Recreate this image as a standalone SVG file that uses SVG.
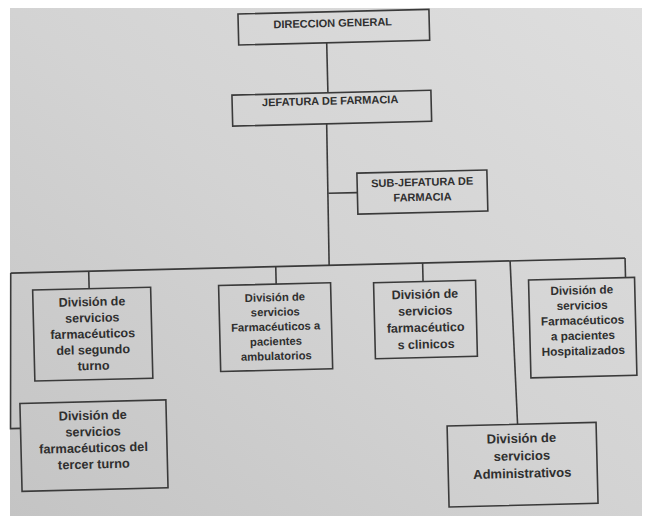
<svg xmlns="http://www.w3.org/2000/svg" width="645" height="521" viewBox="0 0 645 521">
<defs>
<linearGradient id="paper" x1="1" y1="0" x2="0" y2="1">
<stop offset="0" stop-color="#dedede"/>
<stop offset="0.5" stop-color="#d3d3d3"/>
<stop offset="1" stop-color="#c4c4c4"/>
</linearGradient>
<style>
.box{fill:none;stroke:#3a3a3a;stroke-width:1.6}
.ln{fill:none;stroke:#3a3a3a;stroke-width:1.6}
text{font-family:"Liberation Sans",Arial,sans-serif;font-weight:bold;fill:#2f2f2f;text-anchor:middle}
.t11{font-size:11px}
.t113{font-size:11.3px}
.t118{font-size:11.8px}
.t125{font-size:12.5px}
.t128{font-size:12.8px}
.t13{font-size:13px}
</style>
</defs>
<rect x="0" y="0" width="645" height="521" fill="#ffffff"/>
<rect x="10" y="8" width="632" height="508" fill="url(#paper)"/>
<g transform="rotate(-1.4 322 260)">
<g id="connectors">
<line class="ln" x1="332" y1="43" x2="332" y2="93"/>
<line class="ln" x1="330" y1="124" x2="329" y2="265.5"/>
<line class="ln" x1="330" y1="193.5" x2="359" y2="193.5"/>
<line class="ln" x1="10.5" y1="265.5" x2="625" y2="265.5"/>
<line class="ln" x1="88.5" y1="265.5" x2="88.5" y2="283"/>
<line class="ln" x1="275.6" y1="265.5" x2="275.6" y2="283"/>
<line class="ln" x1="422.5" y1="265.5" x2="422.5" y2="284"/>
<line class="ln" x1="625" y1="265.5" x2="625" y2="285"/>
<line class="ln" x1="510" y1="265.5" x2="513.5" y2="429"/>
<polyline class="ln" points="10.5,265.5 6.5,421 16.5,421"/>
</g>
<g id="direccion-general">
<rect class="box" x="244" y="12" width="191" height="31"/>
<text class="t11" x="338.5" y="27.2">DIRECCION GENERAL</text>
</g>
<g id="jefatura-farmacia">
<rect class="box" x="236" y="93" width="199" height="31"/>
<text class="t11" x="334" y="104.9">JEFATURA DE FARMACIA</text>
</g>
<g id="sub-jefatura">
<rect class="box" x="359" y="174" width="130" height="41"/>
<text class="t11" x="424" y="188.4">SUB-JEFATURA DE</text>
<text class="t11" x="424" y="203.4">FARMACIA</text>
</g>
<g id="div-segundo-turno">
<rect class="box" x="32" y="283" width="118" height="91"/>
<text class="t125" x="91" y="300.4">División de</text>
<text class="t125" x="91" y="316.4">servicios</text>
<text class="t125" x="91" y="332.4">farmacéuticos</text>
<text class="t125" x="91" y="348.4">del segundo</text>
<text class="t125" x="91" y="364.4">turno</text>
</g>
<g id="div-ambulatorios">
<rect class="box" x="218" y="283" width="112" height="86"/>
<text class="t113" x="274" y="300">División de</text>
<text class="t113" x="274" y="314.7">servicios</text>
<text class="t113" x="274" y="329.4">Farmacéuticos a</text>
<text class="t113" x="274" y="344.1">pacientes</text>
<text class="t113" x="274" y="358.8">ambulatorios</text>
</g>
<g id="div-clinicos">
<rect class="box" x="373" y="284" width="102" height="76"/>
<text class="t125" x="424" y="300.9">División de</text>
<text class="t125" x="424" y="317.6">servicios</text>
<text class="t125" x="424" y="334.3">farmacéutico</text>
<text class="t125" x="424" y="351">s clinicos</text>
</g>
<g id="div-hospitalizados">
<rect class="box" x="528" y="285" width="106" height="98"/>
<text class="t118" x="581" y="300.5">División de</text>
<text class="t118" x="581" y="315.7">servicios</text>
<text class="t118" x="581" y="330.9">Farmacéuticos</text>
<text class="t118" x="581" y="346.1">a pacientes</text>
<text class="t118" x="581" y="361.3">Hospitalizados</text>
</g>
<g id="div-tercer-turno">
<rect class="box" x="16.5" y="396" width="146" height="88"/>
<text class="t128" x="89" y="414">División de</text>
<text class="t128" x="89" y="430.3">servicios</text>
<text class="t128" x="89" y="446.6">farmacéuticos del</text>
<text class="t128" x="89" y="462.9">tercer turno</text>
</g>
<g id="div-administrativos">
<rect class="box" x="443" y="429" width="149" height="81"/>
<text class="t13" x="517" y="447.6">División de</text>
<text class="t13" x="517" y="465.1">servicios</text>
<text class="t13" x="517" y="482.6">Administrativos</text>
</g>
</g>
</svg>
